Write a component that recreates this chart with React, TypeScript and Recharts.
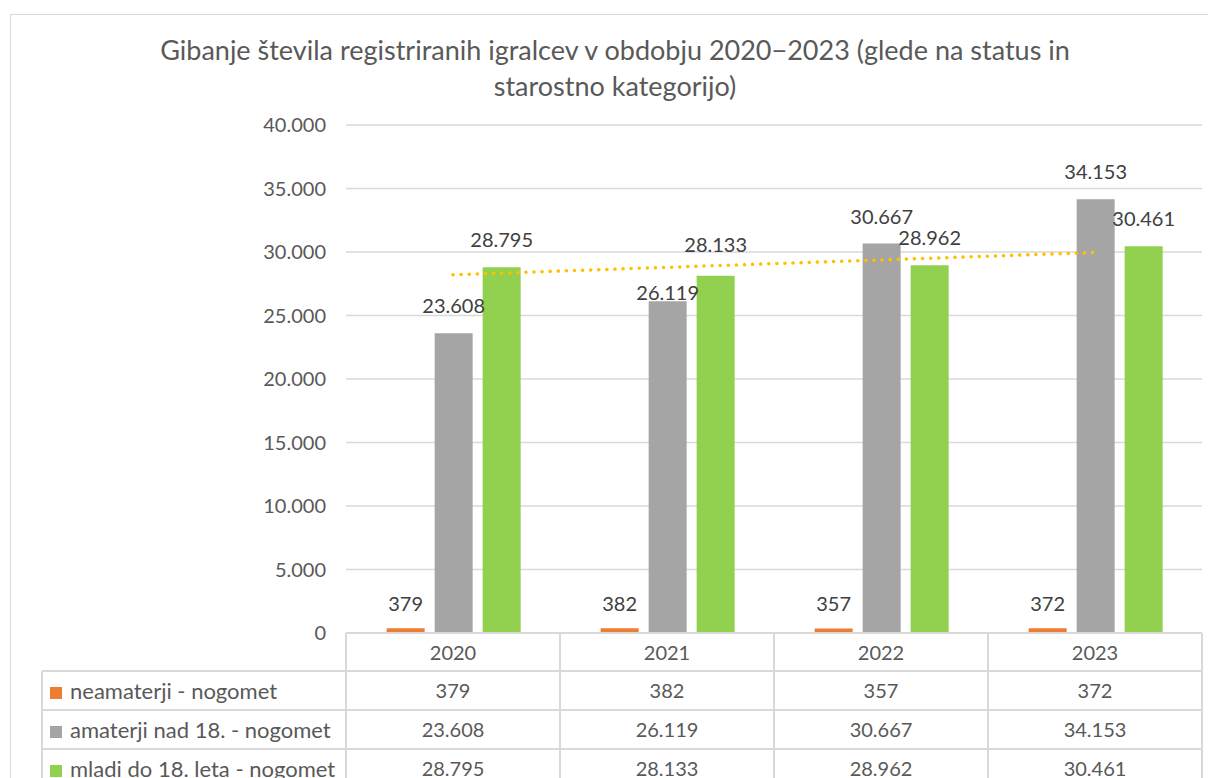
import React from 'react';
import { ComposedChart, Bar, Line, XAxis, YAxis, CartesianGrid, LabelList } from 'recharts';

const years = ['2020', '2021', '2022', '2023'];
const neamaterji = [379, 382, 357, 372];
const amaterji = [23608, 26119, 30667, 34153];
const mladi = [28795, 28133, 28962, 30461];
// linear trend of "mladi", endpoints
const mladiTrend = [28210, null, null, 29960];
const yTicks = [0, 5000, 10000, 15000, 20000, 25000, 30000, 35000, 40000];

const series = [
  { key: 'neamaterji', name: 'neamaterji - nogomet', color: '#ED7D31', values: neamaterji },
  { key: 'amaterji', name: 'amaterji nad 18. - nogomet', color: '#A5A5A5', values: amaterji },
  { key: 'mladi', name: 'mladi do 18. leta - nogomet', color: '#92D050', values: mladi },
];

// hand nudges for labels Excel moved out of the way (px, + = down)
const labelNudge: Record<string, number[]> = {
  neamaterji: [3, 3, 3, 3],
  amaterji: [0, 19, 0, 0],
  mladi: [0, -4, 0, 0],
};

const data = years.map((y, i) => ({
  year: y,
  neamaterji: neamaterji[i],
  amaterji: amaterji[i],
  mladi: mladi[i],
  trend: mladiTrend[i],
}));

const fmt = (v: number) => String(v).replace(/\B(?=(\d{3})+(?!\d))/g, '.');

const FONT = 'Lato, "Noto Sans", sans-serif';
const GRID = '#d9d9d9';

// data table geometry
const tableLeft = 42;
const colLeft = 346;
const colW = 214;
const rowTops = [633, 671, 710, 749];
const rowH = 39;

const makeLabel = (key: string) => (props: any) => {
  const vb = props.viewBox || {};
  const x = props.x ?? vb.x;
  const y = props.y ?? vb.y;
  const w = props.width ?? vb.width;
  const idx = props.index ?? 0;
  const nudge = (labelNudge[key] || [])[idx] || 0;
  return (
    <text x={x + w / 2} y={y - 20 + nudge} textAnchor="middle" fill="#404040" fontSize={20} fontFamily={FONT}>
      {fmt(Number(props.value))}
    </text>
  );
};

const App = () => {
  const lines: React.ReactNode[] = [];
  rowTops.forEach((t, i) => {
    const x0 = i === 0 ? colLeft : tableLeft;
    lines.push(
      <div key={'h' + i} style={{ position: 'absolute', left: x0, top: t - 1, width: colLeft + colW * 4 - x0, height: 2, background: GRID }} />
    );
  });
  for (let c = 0; c <= 4; c++) {
    lines.push(
      <div key={'v' + c} style={{ position: 'absolute', left: colLeft + colW * c - 1, top: rowTops[0], width: 2, height: 778 - rowTops[0], background: GRID }} />
    );
  }
  lines.push(
    <div key="vl" style={{ position: 'absolute', left: tableLeft - 1, top: rowTops[1], width: 2, height: 778 - rowTops[1], background: GRID }} />
  );

  const cellStyle: React.CSSProperties = {
    position: 'absolute', height: rowH, lineHeight: rowH + 'px', fontSize: 20, color: '#595959', textAlign: 'center', width: colW,
  };

  return (
    <div style={{ position: 'absolute', left: 0, top: 0, width: 1208, height: 778, overflow: 'hidden', background: '#fff', fontFamily: FONT }}>
      <div style={{ position: 'absolute', left: 10, top: 14, width: 1400, height: 1000, border: '1px solid #d9d9d9' }} />
      <div style={{ position: 'absolute', left: 10, top: 32, width: 1210, textAlign: 'center', fontSize: 27, lineHeight: '36px', color: '#595959' }}>
        Gibanje števila registriranih igralcev v obdobju 2020−2023 (glede na status in
        <br />
        starostno kategorijo)
      </div>

      <div style={{ position: 'absolute', left: 0, top: 0 }}>
        <ComposedChart
          width={1208}
          height={778}
          data={data}
          margin={{ top: 125, right: 6, bottom: 145, left: 0 }}
          barCategoryGap="19%"
          barGap={10}
        >
          <CartesianGrid vertical={false} stroke={GRID} strokeWidth={1.5} />
          <XAxis dataKey="year" hide />
          <YAxis
            width={346}
            domain={[0, 40000]}
            ticks={yTicks}
            interval={0}
            axisLine={false}
            tickLine={false}
            tickSize={0}
            tickMargin={20}
            tickFormatter={fmt}
            tick={{ fill: '#595959', fontSize: 20, fontFamily: FONT }}
          />
          {series.map(s => (
            <Bar key={s.key} dataKey={s.key} fill={s.color} isAnimationActive={false}>
              <LabelList dataKey={s.key} content={makeLabel(s.key)} />
            </Bar>
          ))}
          <Line
            dataKey="trend"
            connectNulls
            stroke="#FFC000"
            strokeWidth={3.5}
            strokeDasharray="0.1 8"
            strokeLinecap="round"
            dot={false}
            activeDot={false}
            isAnimationActive={false}
          />
        </ComposedChart>
      </div>

      {lines}

      {years.map((y, c) => (
        <div key={'y' + y} style={{ ...cellStyle, left: colLeft + colW * c, top: rowTops[0] }}>{y}</div>
      ))}
      {series.map((s, r) => (
        <React.Fragment key={s.key}>
          <div style={{ position: 'absolute', left: tableLeft + 8, top: rowTops[r + 1], height: rowH, lineHeight: rowH + 'px', fontSize: 22, color: '#595959', whiteSpace: 'nowrap' }}>
            <span style={{ display: 'inline-block', width: 12, height: 12, background: s.color, marginRight: 8 }} />
            {s.name}
          </div>
          {s.values.map((v, c) => (
            <div key={c} style={{ ...cellStyle, left: colLeft + colW * c, top: rowTops[r + 1] }}>{fmt(v)}</div>
          ))}
        </React.Fragment>
      ))}
    </div>
  );
};

export default App;
